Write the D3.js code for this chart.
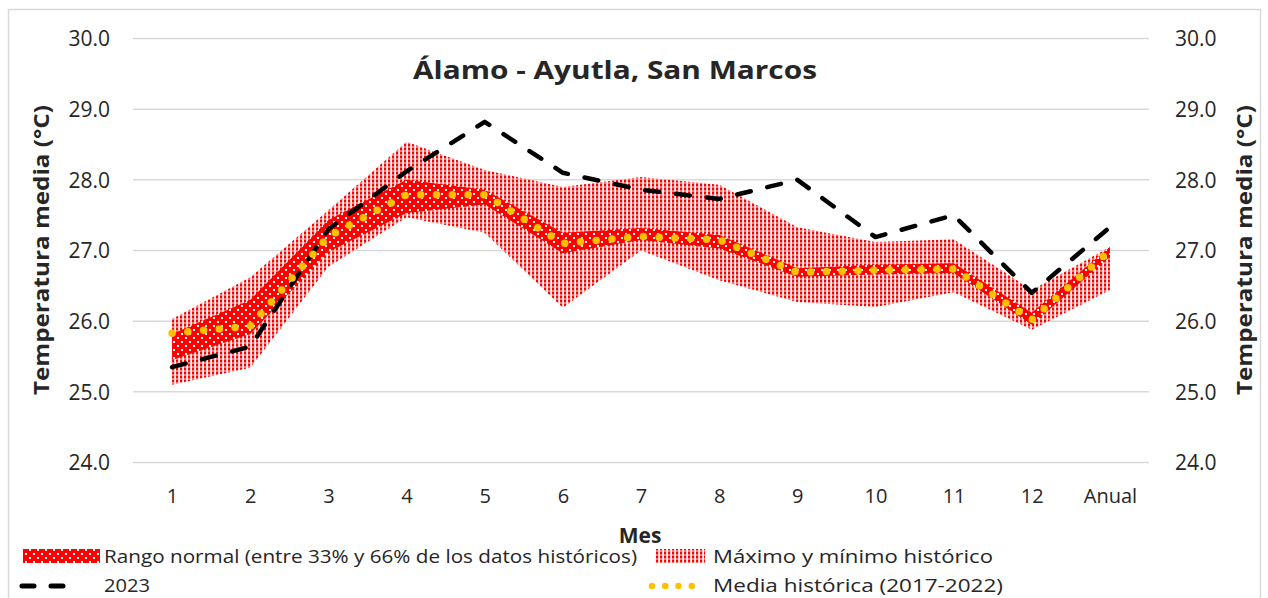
<!DOCTYPE html>
<html>
<head>
<meta charset="utf-8">
<script src="https://cdn.jsdelivr.net/npm/d3@7"></script>
<style>
  html, body { margin: 0; padding: 0; background: #fff; }
  svg { display: block; }
  text { font-family: "Open Sans", "Noto Sans", sans-serif; fill: #262626; }
</style>
</head>
<body>
<svg id="chart" width="1268" height="598"></svg>
<script>
// ---- data ----
const categories = ["1","2","3","4","5","6","7","8","9","10","11","12","Anual"];
const histMax   = [26.03, 26.62, 27.57, 28.54, 28.14, 27.90, 28.04, 27.93, 27.33, 27.12, 27.16, 26.44, 27.05];
const histMin   = [25.10, 25.34, 26.77, 27.47, 27.25, 26.19, 27.00, 26.58, 26.27, 26.20, 26.41, 25.88, 26.44];
const normalHigh = [25.82, 26.30, 27.43, 28.00, 27.86, 27.25, 27.32, 27.22, 26.75, 26.80, 26.82, 26.12, 27.05];
const normalLow  = [25.45, 25.82, 26.98, 27.53, 27.65, 26.96, 27.15, 27.03, 26.63, 26.66, 26.68, 25.95, 26.91];
const year2023  = [25.35, 25.64, 27.30, 28.12, 28.82, 28.10, 27.86, 27.73, 28.00, 27.19, 27.50, 26.40, 27.33];
const histMean  = [25.83, 25.93, 27.20, 27.79, 27.79, 27.10, 27.20, 27.15, 26.69, 26.72, 26.74, 26.02, 27.00];
const yTicks = [24, 25, 26, 27, 28, 29, 30];
const titleText = "Álamo - Ayutla, San Marcos";
const yTitle = "Temperatura media (°C)";
const xTitle = "Mes";
const legendLabels = ["Rango normal (entre 33% y 66% de los datos históricos)", "Máximo y mínimo histórico", "2023", "Media histórica (2017-2022)"];

const svg = d3.select("#chart");
const plotLeft = 133, plotRight = 1149, plotTop = 38.5, plotBottom = 462.5;

const x = d3.scalePoint().domain(categories).range([plotLeft, plotRight]).padding(0.5);
const y = d3.scaleLinear().domain([24, 30]).range([plotBottom, plotTop]);

// patterns
const defs = svg.append("defs");
const pMinMax = defs.append("pattern").attr("id", "pMinMax").attr("patternUnits", "userSpaceOnUse")
  .attr("width", 4).attr("height", 4);
pMinMax.append("rect").attr("x", 0).attr("y", 0).attr("width", 2).attr("height", 2).attr("fill", "#ff0000");
pMinMax.append("rect").attr("x", 0).attr("y", 2).attr("width", 2).attr("height", 2).attr("fill", "#ff7070");
pMinMax.append("rect").attr("x", 2).attr("y", 0).attr("width", 1).attr("height", 4).attr("fill", "#ffd0d0");

const pNormal = defs.append("pattern").attr("id", "pNormal").attr("patternUnits", "userSpaceOnUse")
  .attr("width", 8).attr("height", 8);
pNormal.append("rect").attr("width", 8).attr("height", 8).attr("fill", "#ff0000");
pNormal.append("rect").attr("x", 1).attr("y", 1).attr("width", 2).attr("height", 2).attr("fill", "#ffffff");
pNormal.append("rect").attr("x", 5).attr("y", 5).attr("width", 2).attr("height", 2).attr("fill", "#ffffff");

// outer border
svg.append("rect").attr("x", 8.5).attr("y", 9.5).attr("width", 1252).attr("height", 600)
  .attr("fill", "#fff").attr("stroke", "#d9d9d9").attr("stroke-width", 1.5);

// gridlines
svg.append("g").selectAll("line").data(yTicks).join("line")
  .attr("x1", plotLeft).attr("x2", plotRight)
  .attr("y1", d => y(d)).attr("y2", d => y(d))
  .attr("stroke", "#d9d9d9").attr("stroke-width", 1.5);

// axes (labels only)
const fmt = d3.format(".1f");
const gL = svg.append("g").attr("transform", `translate(${plotLeft - 23},0)`)
  .call(d3.axisLeft(y).tickValues(yTicks).tickFormat(fmt).tickSize(0).tickPadding(0));
gL.select(".domain").remove();
gL.selectAll("text").attr("font-size", 21).attr("fill", "#262626").attr("dy", "0.35em")
  .style("font-family", "'Open Sans', sans-serif");

const gR = svg.append("g").attr("transform", `translate(${plotRight + 26},0)`)
  .call(d3.axisRight(y).tickValues(yTicks).tickFormat(fmt).tickSize(0).tickPadding(0));
gR.select(".domain").remove();
gR.selectAll("text").attr("font-size", 21).attr("fill", "#262626").attr("dy", "0.35em")
  .style("font-family", "'Open Sans', sans-serif");

const gX = svg.append("g").attr("transform", `translate(0,${plotBottom + 40})`)
  .call(d3.axisBottom(x).tickSize(0).tickPadding(0));
gX.select(".domain").remove();
gX.selectAll("text").attr("font-size", 20).attr("fill", "#262626").attr("dy", 0)
  .style("font-family", "'Open Sans', sans-serif");

// series data rows
const rows = categories.map((c, i) => ({
  c, max: histMax[i], min: histMin[i], hi: normalHigh[i], lo: normalLow[i], y23: year2023[i], mean: histMean[i]
}));

// max/min band
svg.append("path").datum(rows)
  .attr("d", d3.area().x(d => x(d.c)).y0(d => y(d.min)).y1(d => y(d.max)))
  .attr("fill", "url(#pMinMax)");

// normal band
svg.append("path").datum(rows)
  .attr("d", d3.area().x(d => x(d.c)).y0(d => y(d.lo)).y1(d => y(d.hi)))
  .attr("fill", "url(#pNormal)");

// 2023 dashed
svg.append("path").datum(rows)
  .attr("d", d3.line().x(d => x(d.c)).y(d => y(d.y23)))
  .attr("fill", "none").attr("stroke", "#000").attr("stroke-width", 4.5)
  .attr("stroke-dasharray", "14 17").attr("stroke-linecap", "round").attr("stroke-linejoin", "round");

// mean dotted
svg.append("path").datum(rows)
  .attr("d", d3.line().x(d => x(d.c)).y(d => y(d.mean)))
  .attr("fill", "none").attr("stroke", "#ffc000").attr("stroke-width", 7.5)
  .attr("stroke-dasharray", "0 15.8").attr("stroke-linecap", "round");

// title
svg.append("text").attr("x", 615).attr("y", 79).attr("text-anchor", "middle")
  .attr("font-size", 25).attr("font-weight", "bold").attr("textLength", 404).attr("lengthAdjust", "spacingAndGlyphs")
  .text(titleText);

// axis titles
svg.append("text").attr("transform", "translate(49,250) rotate(-90)").attr("text-anchor", "middle")
  .attr("font-size", 21).attr("font-weight", "bold").attr("textLength", 290).attr("lengthAdjust", "spacingAndGlyphs")
  .attr("fill", "#000").text(yTitle);
svg.append("text").attr("transform", "translate(1252,250) rotate(-90)").attr("text-anchor", "middle")
  .attr("font-size", 21).attr("font-weight", "bold").attr("textLength", 290).attr("lengthAdjust", "spacingAndGlyphs")
  .attr("fill", "#000").text(yTitle);
svg.append("text").attr("x", 640).attr("y", 543).attr("text-anchor", "middle")
  .attr("font-size", 21).attr("font-weight", "bold").attr("fill", "#000").text(xTitle);

// legend
const lg = svg.append("g");
lg.append("rect").attr("x", 23).attr("y", 549).attr("width", 77).attr("height", 14).attr("fill", "url(#pNormal)");
lg.append("text").attr("x", 104).attr("y", 563).attr("font-size", 18).attr("textLength", 533)
  .attr("lengthAdjust", "spacingAndGlyphs").text(legendLabels[0]);
lg.append("rect").attr("x", 655).attr("y", 549).attr("width", 50).attr("height", 14).attr("fill", "url(#pMinMax)");
lg.append("text").attr("x", 713).attr("y", 563).attr("font-size", 18).attr("textLength", 280)
  .attr("lengthAdjust", "spacingAndGlyphs").text(legendLabels[1]);
lg.append("line").attr("x1", 22).attr("x2", 67).attr("y1", 586).attr("y2", 586)
  .attr("stroke", "#000").attr("stroke-width", 5).attr("stroke-dasharray", "12 17").attr("stroke-linecap", "round");
lg.append("text").attr("x", 104).attr("y", 592).attr("font-size", 18).attr("textLength", 46)
  .attr("lengthAdjust", "spacingAndGlyphs").text(legendLabels[2]);
lg.append("line").attr("x1", 652).attr("x2", 705).attr("y1", 586).attr("y2", 586)
  .attr("stroke", "#ffc000").attr("stroke-width", 6.5).attr("stroke-dasharray", "0 13.25").attr("stroke-linecap", "round");
lg.append("text").attr("x", 713).attr("y", 592).attr("font-size", 18).attr("textLength", 290)
  .attr("lengthAdjust", "spacingAndGlyphs").text(legendLabels[3]);
</script>
</body>
</html>
